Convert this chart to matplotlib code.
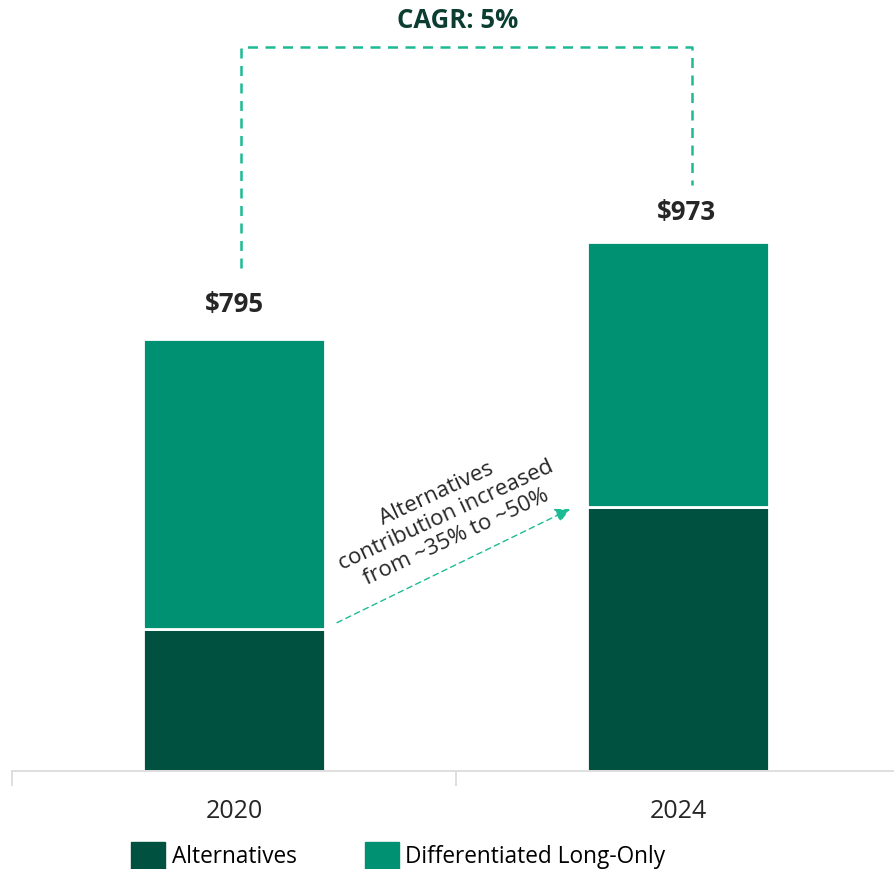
import matplotlib
matplotlib.use("Agg")
import matplotlib.pyplot as plt
from matplotlib.patches import Patch

years = ["2020", "2024"]
alternatives = [262, 485]
long_only = [533, 488]
totals = ["$795", "$973"]
cagr_label = "CAGR: 5%"
note = "Alternatives\ncontribution increased\nfrom ~35% to ~50%"

DARK = "#00513F"; LIGHT = "#009172"; DASH = "#1DBB94"; INK = "#262626"; CAGR_INK = "#0B3D30"
plt.rcParams["font.family"] = ["Open Sans", "DejaVu Sans"]

fig = plt.figure(figsize=(8.94, 8.69), dpi=100)
ax = fig.add_axes([12 / 894, 1 - 771 / 869, 888 / 894, 771 / 869])
x = list(range(len(years)))
ax.bar(x, alternatives, width=0.41, color=DARK, edgecolor="white", lw=2, label="Alternatives")
ax.bar(x, long_only, bottom=alternatives, width=0.41, color=LIGHT, edgecolor="white", lw=2,
       label="Differentiated Long-Only")
ax.set_xlim(-0.5, 1.5)
ax.set_ylim(0, 1419)
for s in ["top", "right", "left"]:
    ax.spines[s].set_visible(False)
ax.spines["bottom"].set_color("#d9d9d9"); ax.spines["bottom"].set_linewidth(1.2)
ax.set_yticks([])
ax.set_xticks([-0.5, 0.5])
ax.set_xticklabels([])
ax.tick_params(axis="x", length=11, color="#d9d9d9", width=1.2)
for xi, yr in zip(x, years):
    ax.text(xi, -75, yr, ha="center", va="center", fontsize=18, color=INK)

# totals above bars
tot = [a + b for a, b in zip(alternatives, long_only)]
ax.text(0.0, tot[0] + 64, totals[0], ha="center", va="center", fontsize=18.5, weight="bold", color=INK)
ax.text(1.02, tot[1] + 55, totals[1], ha="center", va="center", fontsize=18.5, weight="bold", color=INK)

# CAGR bracket
ax.plot([0.016, 0.016, 1.031, 1.031], [926, 1332, 1332, 1078], ls=(0, (4, 3)), lw=1.8,
        color=DASH, clip_on=False)
ax.text(0.504, 1382, cagr_label, ha="center", va="center", fontsize=18.5, weight="bold",
        color=CAGR_INK)

# contribution arrow
ax.annotate("", xy=(0.757, 482), xytext=(0.232, 273),
            arrowprops=dict(arrowstyle="-|>", ls=(0, (4, 3)), lw=1.0, color=DASH,
                            mutation_scale=22, shrinkA=0, shrinkB=0))
ax.text(0.478, 470, note, ha="center", va="center", fontsize=16, rotation=25,
        rotation_mode="anchor", color=INK, linespacing=1.15)

handles = [Patch(color=DARK), Patch(color=LIGHT)]
fig.legend(handles, ["Alternatives", "Differentiated Long-Only"], loc="lower left",
           bbox_to_anchor=(131 / 894, 0.0), ncol=2, frameon=False, fontsize=16.3,
           handlelength=1.5, handleheight=1.45, handletextpad=0.3, columnspacing=3.0,
           borderaxespad=0.0, borderpad=0.0)
fig.savefig("out.png", dpi=100)
